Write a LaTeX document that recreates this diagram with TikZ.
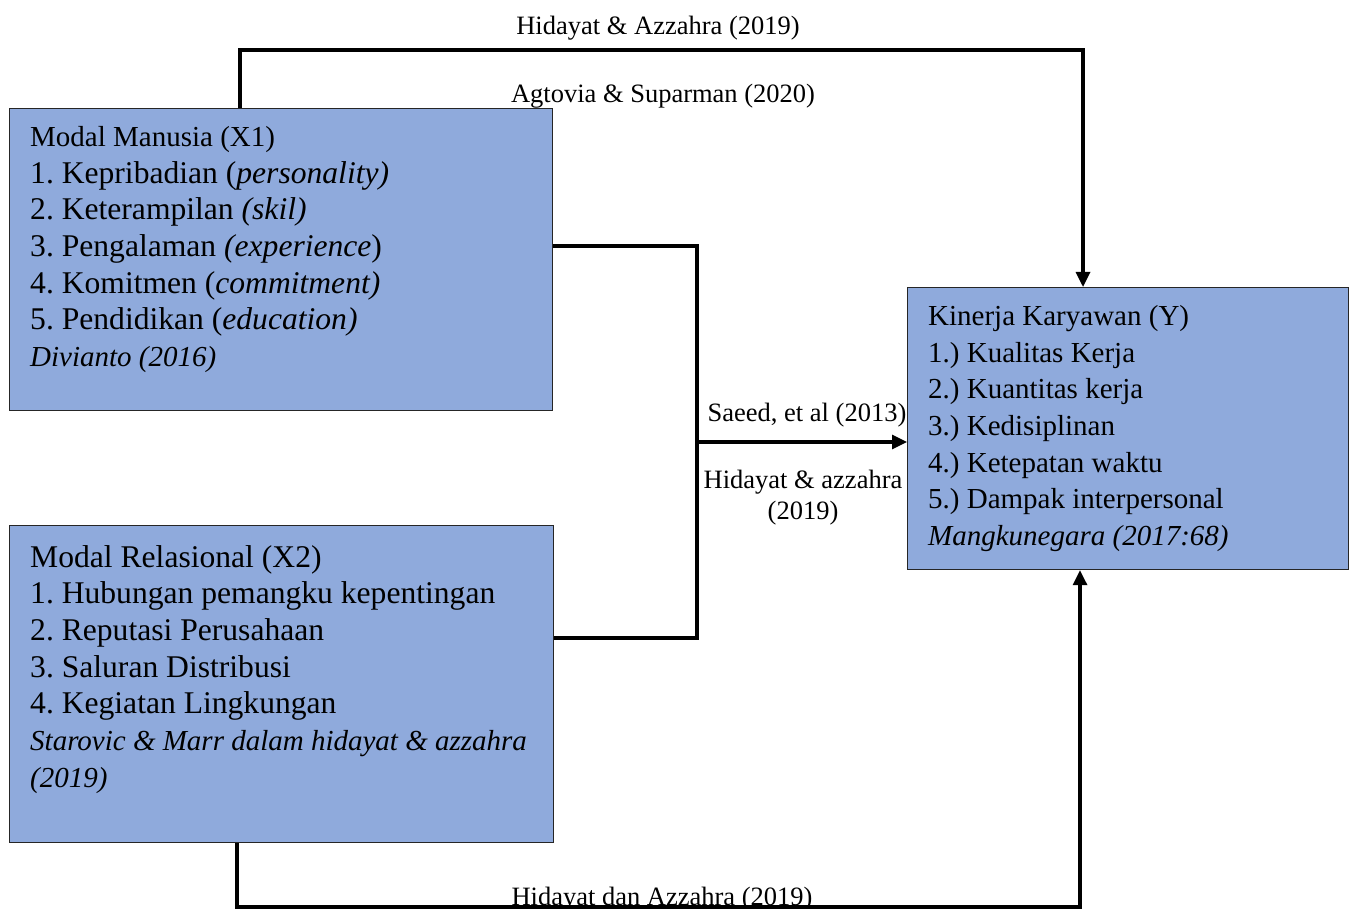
\documentclass[tikz,border=0pt]{standalone}
\usepackage{fontspec}
\setmainfont{Liberation Serif}
\usetikzlibrary{arrows.meta}
\frenchspacing
\definecolor{boxblue}{HTML}{8FAADC}
\newcommand{\biglinefont}{\fontsize{31.6}{36.9}\selectfont}
\newcommand{\smalllinefont}{\fontsize{29}{36.9}\selectfont}
\tikzset{
  box/.style={draw=black!85, line width=1.2pt, fill=boxblue, anchor=north west, inner sep=0pt},
  boxtext/.style={anchor=north west, inner sep=0pt, align=left, font=\fontsize{29}{36.7}\selectfont},
  lbl/.style={inner sep=0pt, align=center, font=\fontsize{26.5}{31}\selectfont},
  conn/.style={line width=3.2pt, line join=miter},
  arr/.style={conn, -{Triangle[length=15pt,width=14pt]}}
}
\begin{document}
\begin{tikzpicture}[x=1pt,y=-1pt]
\useasboundingbox (0,0) rectangle (1354,909);
% boxes
\node[box, minimum width=543pt, minimum height=302pt] (x1) at (9,108) {};
\node[box, minimum width=544pt, minimum height=317pt] (x2) at (9,525) {};
\node[box, minimum width=441pt, minimum height=282pt] (y) at (907,287) {};
% box texts
\node[boxtext] (x1t) at (30,126) {\smalllinefont Modal Manusia (X1)\\
\biglinefont 1. Kepribadian (\textit{personality)}\\
\biglinefont 2. Keterampilan \textit{(skil)}\\
\biglinefont 3. Pengalaman \textit{(experience})\\
\biglinefont 4. Komitmen (\textit{commitment)}\\
\biglinefont 5. Pendidikan (\textit{education)}\\
\smalllinefont\textit{Divianto (2016)}};
\node[boxtext] (x2t) at (30,545) {\biglinefont Modal Relasional (X2)\\
\biglinefont 1. Hubungan pemangku kepentingan\\
\biglinefont 2. Reputasi Perusahaan\\
\biglinefont 3. Saluran Distribusi\\
\biglinefont 4. Kegiatan Lingkungan\\
\smalllinefont\textit{Starovic \& Marr dalam hidayat \& azzahra}\\
\smalllinefont\textit{(2019)}};
\node[boxtext] (yt) at (928,305) {Kinerja Karyawan (Y)\\
1.) Kualitas Kerja\\
2.) Kuantitas kerja\\
3.) Kedisiplinan\\
4.) Ketepatan waktu\\
5.) Dampak interpersonal\\
\textit{Mangkunegara (2017:68)}};
% connector coordinates
\coordinate (t1) at (240,50);
\coordinate (t2) at (1083,50);
\coordinate (m1) at (697,246);
\coordinate (m2) at (697,638);
\coordinate (m3) at (697,442);
\coordinate (b1) at (237,907);
\coordinate (b2) at (1080,907);
% connectors
\draw[arr] (t1 |- x1.north) -- (t1) -- (t2) -- (t2 |- y.north);
\draw[conn] (x1.east |- m1) -- (m1) -- (m2) -- (x2.east |- m2);
\draw[arr] (m3) -- (m3 -| y.west);
\draw[arr] (b1 |- x2.south) -- (b1) -- (b2) -- (b2 |- y.south);
% labels
\node[lbl] (l1) at (658,28) {Hidayat \& Azzahra (2019)};
\node[lbl] (l2) at (663,96) {Agtovia \& Suparman (2020)};
\node[lbl] (l3) at (807,415) {Saeed, et al (2013)};
\node[lbl] (l4) at (803,498) {Hidayat \& azzahra\\(2019)};
\node[lbl] (l5) at (662,899) {Hidayat dan Azzahra (2019)};
\end{tikzpicture}
\end{document}
